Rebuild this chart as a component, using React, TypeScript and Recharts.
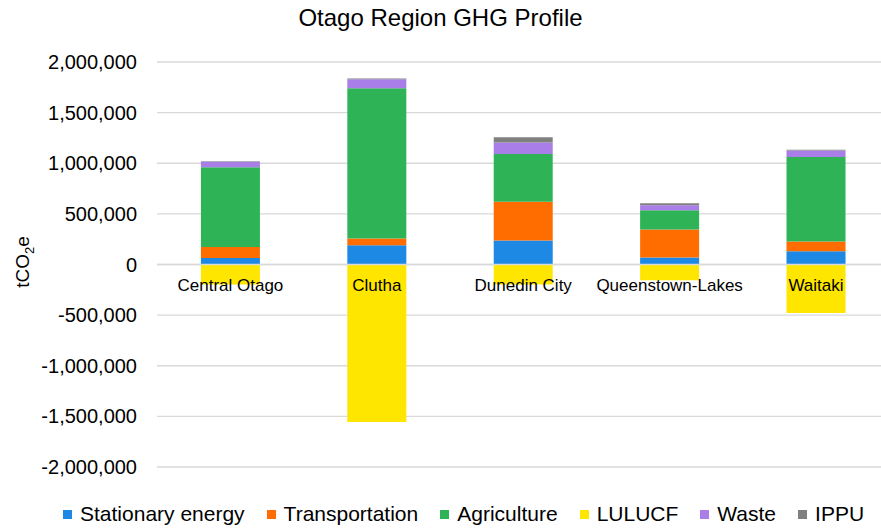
import { Bar, BarChart, CartesianGrid, LabelList, Legend, ReferenceLine, XAxis, YAxis } from "recharts";

const categories = ["Central Otago", "Clutha", "Dunedin City", "Queenstown-Lakes", "Waitaki"];
const stationaryEnergy = [65000, 191000, 237000, 69000, 132000];
const transportation = [109000, 66000, 383000, 277000, 96000];
const agriculture = [787000, 1483000, 471000, 191000, 833000];
const lulucf = [-198000, -1555000, -198000, -155000, -478000];
const waste = [55000, 89000, 113000, 49000, 66000];
const ippu = [3000, 8000, 52000, 20000, 7000];
const yTicks = [-2000000, -1500000, -1000000, -500000, 0, 500000, 1000000, 1500000, 2000000];

const series = [
  { key: "stationary", name: "Stationary energy", color: "#1e88e5", values: stationaryEnergy },
  { key: "transport", name: "Transportation", color: "#ff6d00", values: transportation },
  { key: "agriculture", name: "Agriculture", color: "#2eb457", values: agriculture },
  { key: "lulucf", name: "LULUCF", color: "#ffe600", values: lulucf },
  { key: "waste", name: "Waste", color: "#a97ee8", values: waste },
  { key: "ippu", name: "IPPU", color: "#808080", values: ippu },
];

const data = categories.map((name, i) => {
  const row: Record<string, string | number> = { name };
  series.forEach((s) => (row[s.key] = s.values[i]));
  return row;
});

const FONT = "'Liberation Sans', Arial, sans-serif";
const Y_MIN = -2000000;
const Y_MAX = 2000000;
const PLOT_TOP = 62;
const PLOT_BOTTOM = 467;
const ZERO_Y = PLOT_TOP + ((PLOT_BOTTOM - PLOT_TOP) * Y_MAX) / (Y_MAX - Y_MIN);

// category names sit just under the zero line (drawn over the bars, like Excel)
const CategoryLabel = (props: any) => {
  const { x, width, value } = props;
  return (
    <text x={x + width / 2} y={ZERO_Y + 26} textAnchor="middle" fontSize={17} fill="#000" fontFamily={FONT}>
      {value}
    </text>
  );
};

const YLabel = () => (
  <text x={29} y={262} transform="rotate(-90, 29, 262)" textAnchor="middle" fontSize={19} fill="#000" fontFamily={FONT}>
    tCO<tspan fontSize={13} dy={5}>2</tspan>
    <tspan dy={-5}>e</tspan>
  </text>
);

const LegendContent = () => (
  <div style={{ display: "flex", whiteSpace: "nowrap", fontFamily: FONT, fontSize: 21, lineHeight: "24px", color: "#000" }}>
    {series.map((s) => (
      <div key={s.key} style={{ display: "flex", alignItems: "center", marginRight: 22 }}>
        <span style={{ width: 9, height: 9, background: s.color, marginRight: 8, display: "inline-block" }} />
        <span>{s.name}</span>
      </div>
    ))}
  </div>
);

export default function App() {
  return (
    <div style={{ position: "fixed", left: 0, top: 0, width: 881, height: 528, overflow: "hidden", background: "#fff" }}>
      <div
        style={{
          position: "absolute",
          top: 4,
          left: 0,
          width: 881,
          textAlign: "center",
          fontFamily: FONT,
          fontSize: 24,
          lineHeight: "28px",
          color: "#000",
          zIndex: 2,
        }}
      >
        Otago Region GHG Profile
      </div>
      <BarChart
        width={890}
        height={528}
        data={data}
        stackOffset="sign"
        barCategoryGap="30%"
        margin={{ top: PLOT_TOP, right: 1, left: 0, bottom: 528 - PLOT_BOTTOM }}
      >
        <CartesianGrid vertical={false} stroke="#d9d9d9" strokeWidth={1.3} />
        <XAxis dataKey="name" height={0} axisLine={false} tickLine={false} tick={false} />
        <YAxis
          width={157}
          domain={[Y_MIN, Y_MAX]}
          ticks={yTicks}
          axisLine={false}
          tickLine={false}
          tickSize={6}
          tickMargin={14}
          tick={{ fontSize: 20, fill: "#000", fontFamily: FONT }}
          tickFormatter={(v: number) => v.toLocaleString("en-US")}
          label={<YLabel />}
        />
        <ReferenceLine y={0} stroke="#d9d9d9" strokeWidth={1.3} />
        {series.map((s, i) => (
          <Bar key={s.key} dataKey={s.key} name={s.name} stackId="a" fill={s.color} isAnimationActive={false}>
            {i === series.length - 1 && <LabelList dataKey="name" content={<CategoryLabel />} />}
          </Bar>
        ))}
        <Legend
          verticalAlign="middle"
          align="center"
          layout="horizontal"
          content={<LegendContent />}
          wrapperStyle={{ top: 502, left: 63, width: 830 }}
        />
      </BarChart>
    </div>
  );
}
